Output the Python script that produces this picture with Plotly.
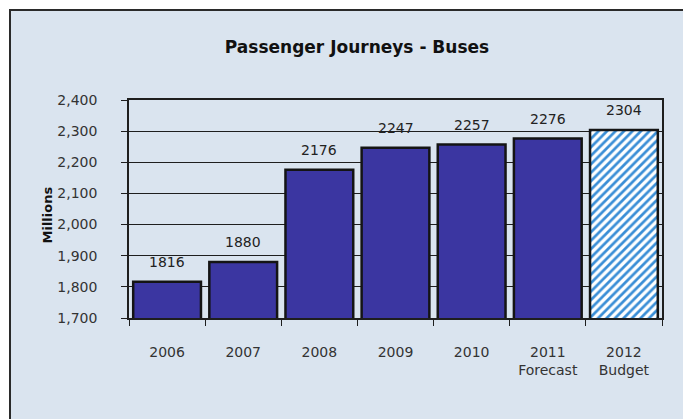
import plotly.graph_objects as go

categories = ["2006", "2007", "2008", "2009", "2010", "2011<br>Forecast", "2012<br>Budget"]
values = [1816, 1880, 2176, 2247, 2257, 2276, 2304]
label_text = ["1816", "1880", "2176", "2247", "2257", "2276", "2304"]
actual_color = "#3b36a1"
budget_hatch_color = "#3a8ed6"
y_ticks = [1700, 1800, 1900, 2000, 2100, 2200, 2300, 2400]
y_ticktext = ["1,700", "1,800", "1,900", "2,000", "2,100", "2,200", "2,300", "2,400"]

W, H = 683, 419
L, R, T, B = 129, 21, 100, 101
pw, ph = W - L - R, H - T - B

def px(x):
    return (x - L) / pw

def py(y):
    return 1 - (y - T) / ph

FONT = "DejaVu Sans"
xpos = list(range(len(categories)))
n = len(categories)

fig = go.Figure()
fig.add_trace(go.Bar(
    x=xpos[:-1], y=values[:-1], width=0.89,
    marker=dict(color=actual_color, line=dict(color="#141414", width=2.5)),
    hoverinfo="skip",
))
fig.add_trace(go.Bar(
    x=xpos[-1:], y=values[-1:], width=0.89,
    marker=dict(
        color="#ffffff",
        line=dict(color="#141414", width=2.5),
        pattern=dict(shape="/", fgcolor=budget_hatch_color, fgopacity=1,
                     fillmode="overlay", size=6, solidity=0.45),
    ),
    hoverinfo="skip",
))

annotations = []
for xi, v, t in zip(xpos, values, label_text):
    annotations.append(dict(x=xi, y=v, text=t, xref="x", yref="y", showarrow=False,
                            yanchor="middle", yshift=20,
                            font=dict(family=FONT, size=14, color="#222222")))
annotations.append(dict(x=px(37), y=py(215), xref="paper", yref="paper", text="<b>Millions</b>",
                        textangle=-90, showarrow=False,
                        font=dict(family=FONT, size=13, color="#111111")))

fig.update_layout(
    width=W, height=H,
    margin=dict(l=L, r=R, t=T, b=B, pad=0),
    paper_bgcolor="#ffffff",
    plot_bgcolor="rgba(0,0,0,0)",
    showlegend=False,
    barmode="overlay",
    title=dict(text="<b>Passenger Journeys - Buses</b>", x=357 / W, xanchor="center",
               y=1 - 47 / H, yanchor="middle",
               font=dict(family=FONT, size=17, color="#111111")),
    font=dict(family=FONT, size=14, color="#333333"),
    annotations=annotations,
    shapes=[dict(type="rect", xref="paper", yref="paper", layer="below",
                 x0=px(10), x1=px(W + 40), y0=py(H + 40), y1=py(10),
                 fillcolor="#dae4ef", line=dict(color="#2a2a2a", width=2))],
)

fig.update_yaxes(
    range=[1700, 2400], tickvals=y_ticks, ticktext=y_ticktext,
    showgrid=True, gridcolor="#1e1e1e", gridwidth=1,
    showline=True, linecolor="#1e1e1e", linewidth=1.5, mirror=True,
    ticks="outside", ticklen=6, tickcolor="#1e1e1e",
    ticklabelstandoff=21, zeroline=False,
    tickfont=dict(family=FONT, size=14, color="#333333"),
)
fig.update_xaxes(
    range=[-0.5, n - 0.5],
    tickvals=xpos, ticktext=categories,
    showline=True, linecolor="#1e1e1e", linewidth=2, mirror=True,
    ticks="", showgrid=False, zeroline=False,
    ticklabelstandoff=20,
    tickfont=dict(family=FONT, size=14, color="#333333"),
    minor=dict(tickvals=[i + 0.5 for i in xpos[:-1]] + [-0.5, n - 0.5],
               ticks="outside", ticklen=6, tickcolor="#1e1e1e", showgrid=False),
)

fig.write_html("out.html")
